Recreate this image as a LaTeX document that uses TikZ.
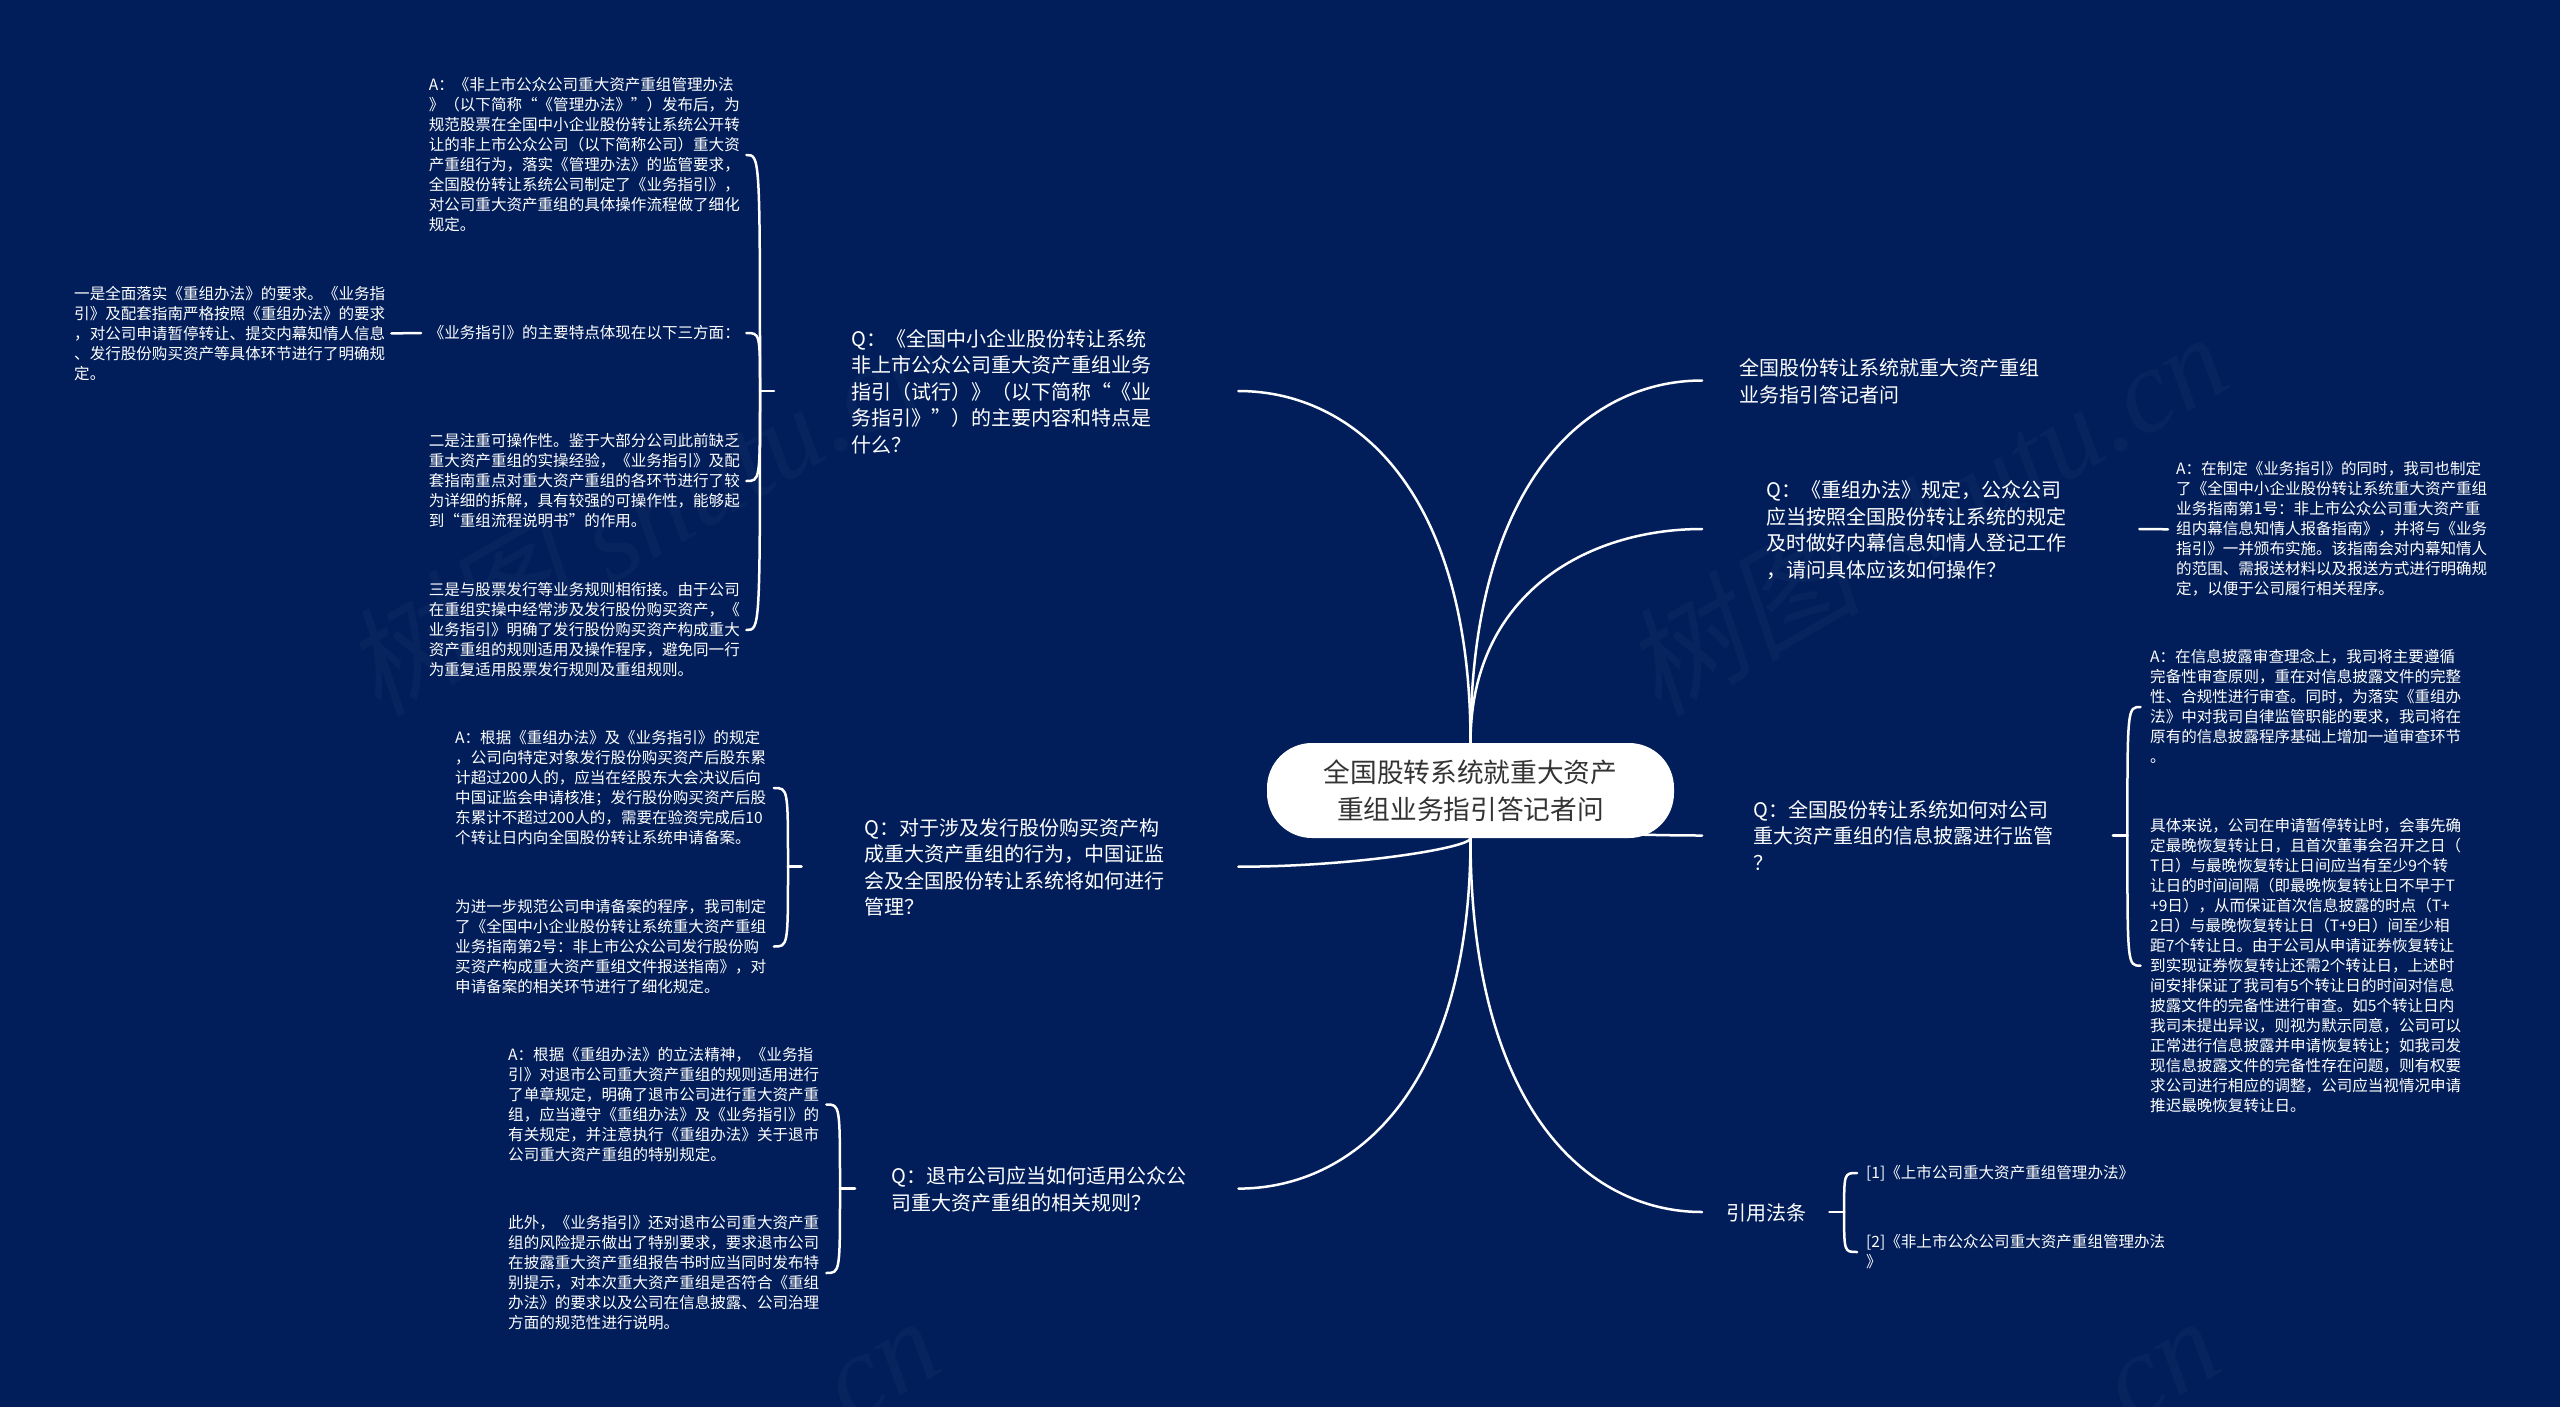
\documentclass[tikz,border=0pt]{standalone}
\usepackage{fontspec}
\setmainfont{Noto Sans CJK SC}
\newfontfamily\wmfont{Liberation Serif}
\newfontfamily\wmcjk[FakeSlant=0.2]{Noto Sans CJK SC}
\usetikzlibrary{backgrounds,calc}
\definecolor{pagebg}{HTML}{011E5A}
\definecolor{wmark}{HTML}{08245F}
\definecolor{inkdark}{HTML}{333333}
\newcommand\strutadd{0pt}
\newcommand\tstrut{\rule{0pt}{\dimexpr.7\baselineskip+\strutadd\relax}}
\tikzset{
  link/.style={draw=white,line width=2.5pt,line cap=round},
  leaf/.style={anchor=west,inner sep=0pt,align=left,text=white,text width=#1,font=\fontsize{15.55}{20}\selectfont\renewcommand\strutadd{3.2pt}},
  ques/.style={anchor=west,inner sep=0pt,align=left,text=white,text width=#1,font=\fontsize{20}{26.5}\selectfont\renewcommand\strutadd{6pt}},
  hubnode/.style={fill=white,rounded corners=45pt,minimum width=407pt,minimum height=95pt,inner sep=0pt,align=center,text=inkdark,font=\fontsize{26.7}{37}\selectfont},
  wm/.style={anchor=east,rotate=30,inner sep=0pt,text=wmark,font=\fontsize{119}{119}\wmfont\itshape}
}
\newcommand\limb[2]{\draw[link] (#1) .. controls (#1 |- #2) and (#1 |- #2) .. (#2);}
\newcommand\spoke[1]{\coordinate (m) at ($(hub)!.5!(#1)$); \coordinate (p) at ($(#1)!.25!(hub)$); \draw[link] (hub) .. controls (hub |- p) and (m |- #1) .. (#1);}
\begin{document}
\begin{tikzpicture}[x=1pt,y=-1pt]
\useasboundingbox (0,0) rectangle (2560,1406);

% central topic
\node[hubnode] (hub) at (1470.5,790.5) {全国股转系统就重大资产\\重组业务指引答记者问};

% left side, first question
\node[ques=387pt] (q1) at (851,391) {\tstrut Q：《全国中小企业股份转让系统\\非上市公众公司重大资产重组业务\\指引（试行）》（以下简称“《业\\务指引》”）的主要内容和特点是\\什么？\strut};
\node[leaf=317.4pt] (a1) at (428.6,155) {\tstrut A：《非上市公众公司重大资产重组管理办法\\》（以下简称“《管理办法》”）发布后，为\\规范股票在全国中小企业股份转让系统公开转\\让的非上市公众公司（以下简称公司）重大资\\产重组行为，落实《管理办法》的监管要求，\\全国股份转让系统公司制定了《业务指引》，\\对公司重大资产重组的具体操作流程做了细化\\规定。\strut};
\node[leaf=317.4pt] (feat) at (428.6,333) {\tstrut 《业务指引》的主要特点体现在以下三方面：\strut};
\node[leaf=317pt] (lft) at (74,333.4) {\tstrut 一是全面落实《重组办法》的要求。《业务指\\引》及配套指南严格按照《重组办法》的要求\\，对公司申请暂停转让、提交内幕知情人信息\\、发行股份购买资产等具体环节进行了明确规\\定。\strut};
\node[leaf=317.4pt] (er) at (428.6,481) {\tstrut 二是注重可操作性。鉴于大部分公司此前缺乏\\重大资产重组的实操经验，《业务指引》及配\\套指南重点对重大资产重组的各环节进行了较\\为详细的拆解，具有较强的可操作性，能够起\\到“重组流程说明书”的作用。\strut};
\node[leaf=317.4pt] (san) at (428.6,630) {\tstrut 三是与股票发行等业务规则相衔接。由于公司\\在重组实操中经常涉及发行股份购买资产，《\\业务指引》明确了发行股份购买资产构成重大\\资产重组的规则适用及操作程序，避免同一行\\为重复适用股票发行规则及重组规则。\strut};

% left side, second question
\node[ques=374pt] (q2) at (864,866.7) {\tstrut Q：对于涉及发行股份购买资产构\\成重大资产重组的行为，中国证监\\会及全国股份转让系统将如何进行\\管理？\strut};
\node[leaf=318.5pt] (a2a) at (455,788) {\tstrut A：根据《重组办法》及《业务指引》的规定\\，公司向特定对象发行股份购买资产后股东累\\计超过200人的，应当在经股东大会决议后向\\中国证监会申请核准；发行股份购买资产后股\\东累计不超过200人的，需要在验资完成后10\\个转让日内向全国股份转让系统申请备案。\strut};
\node[leaf=318.5pt] (a2b) at (455,946.5) {\tstrut 为进一步规范公司申请备案的程序，我司制定\\了《全国中小企业股份转让系统重大资产重组\\业务指南第2号：非上市公众公司发行股份购\\买资产构成重大资产重组文件报送指南》，对\\申请备案的相关环节进行了细化规定。\strut};

% left side, third question
\node[ques=347pt] (q3) at (891,1188.6) {\tstrut Q：退市公司应当如何适用公众公\\司重大资产重组的相关规则？\strut};
\node[leaf=318pt] (a3a) at (508,1104.5) {\tstrut A：根据《重组办法》的立法精神，《业务指\\引》对退市公司重大资产重组的规则适用进行\\了单章规定，明确了退市公司进行重大资产重\\组，应当遵守《重组办法》及《业务指引》的\\有关规定，并注意执行《重组办法》关于退市\\公司重大资产重组的特别规定。\strut};
\node[leaf=318pt] (a3b) at (508,1273) {\tstrut 此外，《业务指引》还对退市公司重大资产重\\组的风险提示做出了特别要求，要求退市公司\\在披露重大资产重组报告书时应当同时发布特\\别提示，对本次重大资产重组是否符合《重组\\办法》的要求以及公司在信息披露、公司治理\\方面的规范性进行说明。\strut};

% right side
\node[ques=320pt] (r1) at (1739.5,380.5) {\tstrut 全国股份转让系统就重大资产重组\\业务指引答记者问\strut};
\node[ques=373pt] (r2) at (1766,529) {\tstrut Q：《重组办法》规定，公众公司\\应当按照全国股份转让系统的规定\\及时做好内幕信息知情人登记工作\\，请问具体应该如何操作？\strut};
\node[leaf=330pt] (ar2) at (2176,529.3) {\tstrut A：在制定《业务指引》的同时，我司也制定\\了《全国中小企业股份转让系统重大资产重组\\业务指南第1号：非上市公众公司重大资产重\\组内幕信息知情人报备指南》，并将与《业务\\指引》一并颁布实施。该指南会对内幕知情人\\的范围、需报送材料以及报送方式进行明确规\\定，以便于公司履行相关程序。\strut};
\node[ques=359.5pt] (q4) at (1753,835.5) {\tstrut Q：全国股份转让系统如何对公司\\重大资产重组的信息披露进行监管\\？\strut};
\node[leaf=330pt] (a4a) at (2150,707) {\tstrut A：在信息披露审查理念上，我司将主要遵循\\完备性审查原则，重在对信息披露文件的完整\\性、合规性进行审查。同时，为落实《重组办\\法》中对我司自律监管职能的要求，我司将在\\原有的信息披露程序基础上增加一道审查环节\\。\strut};
\node[leaf=330pt] (a4b) at (2150,965.7) {\tstrut 具体来说，公司在申请暂停转让时，会事先确\\定最晚恢复转让日，且首次董事会召开之日（\\T日）与最晚恢复转让日间应当有至少9个转\\让日的时间间隔（即最晚恢复转让日不早于T\\+9日），从而保证首次信息披露的时点（T+\\2日）与最晚恢复转让日（T+9日）间至少相\\距7个转让日。由于公司从申请证券恢复转让\\到实现证券恢复转让还需2个转让日，上述时\\间安排保证了我司有5个转让日的时间对信息\\披露文件的完备性进行审查。如5个转让日内\\我司未提出异议，则视为默示同意，公司可以\\正常进行信息披露并申请恢复转让；如我司发\\现信息披露文件的完备性存在问题，则有权要\\求公司进行相应的调整，公司应当视情况申请\\推迟最晚恢复转让日。\strut};
\node[ques=103pt] (r5) at (1726,1212) {\tstrut 引用法条\strut};
\node[leaf=330pt] (law1) at (1866,1173) {\tstrut [1]《上市公司重大资产重组管理办法》\strut};
\node[leaf=330pt] (law2) at (1866,1252) {\tstrut [2]《非上市公众公司重大资产重组管理办法\\》\strut};

% free ends of the connectors
\coordinate (q1end) at ([xshift=-77pt]q1.west);
\coordinate (q1j) at ([xshift=-91pt]q1.west);
\coordinate (q2end) at ([xshift=-62.5pt]q2.west);
\coordinate (q2j) at ([xshift=-76pt]q2.west);
\coordinate (q3end) at ([xshift=-36pt]q3.west);
\coordinate (q3j) at ([xshift=-51pt]q3.west);
\coordinate (q4j) at ([xshift=14.5pt]q4.east);
\coordinate (r5j) at ([xshift=14.7pt]r5.east);
\coordinate (r1in) at ([xshift=-37.5pt]r1.west);
\coordinate (r2in) at ([xshift=-64pt]r2.west);
\coordinate (q4in) at ([xshift=-51pt]q4.west);
\coordinate (r5in) at ([xshift=-24pt]r5.west);
\coordinate (a4aend) at ([xshift=-9.5pt]a4a.west);
\coordinate (a4bend) at ([xshift=-9.5pt]a4b.west);
\coordinate (law1end) at ([xshift=-9pt]law1.west);
\coordinate (law2end) at ([xshift=-9pt]law2.west);

\begin{scope}[on background layer]
  \fill[pagebg] (-4,-4) rectangle (2564,1412);
  \begin{scope}
    \clip (-4,-4) rectangle (2564,1412);
    \node[wm] (wm1) at (2214,345) {{\wmcjk 树图} shutu.cn};
    \node[wm] (wm2) at (934,345) {{\wmcjk 树图} shutu.cn};
    \node[wm] (wm3) at (2214,1345) {cn};
    \node[wm] (wm4) at (934,1345) {cn};
  \end{scope}
  \spoke{q1.east}
  \spoke{q2.east}
  \spoke{q3.east}
  \spoke{r1in}
  \spoke{r2in}
  \spoke{q4in}
  \spoke{r5in}
\end{scope}

% first question group
\draw[link] (q1j) -- (q1end);
\limb{q1j}{a1.east}
\limb{q1j}{feat.east}
\limb{q1j}{er.east}
\limb{q1j}{san.east}
\draw[link] (lft.east) -- ([xshift=-7.6pt]feat.west);

% second question group
\draw[link] (q2j) -- (q2end);
\limb{q2j}{a2a.east}
\limb{q2j}{a2b.east}

% third question group
\draw[link] (q3j) -- (q3end);
\limb{q3j}{a3a.east}
\limb{q3j}{a3b.east}

% right groups
\draw[link] (r2.east) -- ([xshift=-8pt]ar2.west);
\draw[link] (q4.east) -- (q4j);
\limb{q4j}{a4aend}
\limb{q4j}{a4bend}
\draw[link] (r5.east) -- (r5j);
\limb{r5j}{law1end}
\limb{r5j}{law2end}
\end{tikzpicture}
\end{document}
